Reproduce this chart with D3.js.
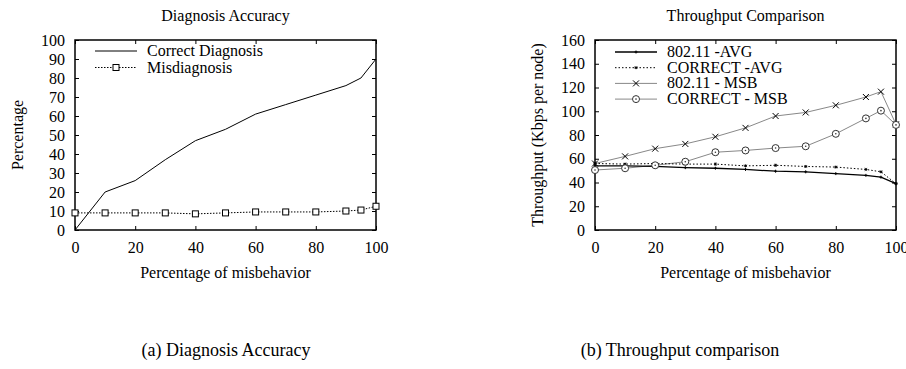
<!DOCTYPE html>
<html>
<head>
<meta charset="utf-8">
<script src="https://cdn.jsdelivr.net/npm/d3@7"></script>
<style>
  body { margin: 0; background: #fff; }
  svg { display: block; }
  svg text { font-family: "Liberation Serif", "Times New Roman", "DejaVu Serif", serif; }
</style>
</head>
<body>
<svg id="chart" width="906" height="369"></svg>
<script>
// misbehavior percentages shared by both panels
const misbehavior = [0, 10, 20, 30, 40, 50, 60, 70, 80, 90, 95, 100];

// (a) diagnosis accuracy, percentage
const correctDiagnosis = [0, 20, 26, 37, 47, 53, 61, 66, 71, 76, 80, 90];
const misdiagnosis = [9, 9, 9, 9, 8.5, 9, 9.5, 9.5, 9.5, 10, 10.5, 12.5];

// (b) throughput, Kbps per node
const avg80211 = [54, 54, 53.5, 52.5, 52, 51, 49.5, 49, 47.5, 46, 44.5, 39];
const avgCorrect = [56, 55.5, 56, 55.5, 55.5, 54, 54.5, 53.5, 53, 51, 49, 39];
const msb80211 = [56, 62, 68.5, 72.5, 78.5, 86, 96, 99, 105, 112, 116.5, 89];
const msbCorrect = [50.5, 52, 54.5, 57.5, 65.5, 67, 69, 70.5, 81, 94, 100.5, 88.5];

const xTicks = [0, 20, 40, 60, 80, 100];
const yTicksA = d3.range(0, 101, 10);
const yTicksB = d3.range(0, 161, 20);

const svg = d3.select('#chart');
svg.append('rect').attr('width', 906).attr('height', 369).attr('fill', '#fff');

const fontSize = 16;
const plotTop = 40;
const plotBottom = 230;

// Draws frame, mirrored inward ticks, labels; returns scales.
function panel(left, right, yMax, yTicks, title, yLabel, yLabelX) {
  const x = d3.scaleLinear().domain([0, 100]).range([left, right]);
  const y = d3.scaleLinear().domain([0, yMax]).range([plotBottom, plotTop]);
  const g = svg.append('g');

  const axes = [
    [d3.axisBottom(x), `translate(0,${plotBottom})`, xTicks],
    [d3.axisTop(x), `translate(0,${plotTop})`, xTicks],
    [d3.axisLeft(y), `translate(${left},0)`, yTicks],
    [d3.axisRight(y), `translate(${right},0)`, yTicks],
  ];
  axes.forEach(([ax, tr, ticks], i) => {
    const a = g.append('g')
      .attr('transform', tr)
      .call(ax.tickValues(ticks).tickSizeInner(-4).tickSizeOuter(0).tickPadding(i < 1 ? 12 : 10));
    a.select('.domain').remove();
    a.selectAll('line').attr('stroke', '#000').attr('stroke-width', 1);
    a.selectAll('text')
      .attr('font-size', fontSize)
      .attr('font-family', '"Liberation Serif", serif')
      .attr('fill', '#000');
    if (i === 1 || i === 3) a.selectAll('text').remove();
  });

  g.append('rect')
    .attr('x', left).attr('y', plotTop)
    .attr('width', right - left).attr('height', plotBottom - plotTop)
    .attr('fill', 'none').attr('stroke', '#000').attr('stroke-width', 1.5);

  svg.append('text')
    .attr('x', (left + right) / 2).attr('y', 21)
    .attr('text-anchor', 'middle').attr('font-size', fontSize)
    .text(title);

  svg.append('text')
    .attr('x', (left + right) / 2).attr('y', 278)
    .attr('text-anchor', 'middle').attr('font-size', fontSize)
    .text('Percentage of misbehavior');

  svg.append('text')
    .attr('transform', `translate(${yLabelX},${(plotTop + plotBottom) / 2}) rotate(-90)`)
    .attr('text-anchor', 'middle').attr('font-size', fontSize)
    .text(yLabel);

  return { x, y, g };
}

function series(p, values, color, width, dash) {
  const line = d3.line()
    .x((d, i) => p.x(misbehavior[i]))
    .y((d) => p.y(d));
  p.g.append('path')
    .datum(values)
    .attr('d', line)
    .attr('fill', 'none')
    .attr('stroke', color)
    .attr('stroke-width', width)
    .attr('stroke-dasharray', dash);
}

function marker(sel, kind) {
  if (kind === 'square') {
    sel.append('rect').attr('x', -3).attr('y', -3).attr('width', 6).attr('height', 6)
      .attr('fill', '#fff').attr('stroke', '#000').attr('stroke-width', 1);
  } else if (kind === 'cross') {
    sel.append('path').attr('d', 'M-3,-3L3,3M-3,3L3,-3')
      .attr('stroke', '#000').attr('stroke-width', 1);
  } else if (kind === 'circle') {
    sel.append('circle').attr('r', 3.5).attr('fill', '#fff')
      .attr('stroke', '#333').attr('stroke-width', 1);
    sel.append('circle').attr('r', 0.8).attr('fill', '#333');
  } else if (kind === 'plus') {
    sel.append('path').attr('d', 'M-1.5,0L1.5,0M0,-1.5L0,1.5')
      .attr('stroke', '#000').attr('stroke-width', 1);
  } else if (kind === 'star') {
    sel.append('path').attr('d', 'M-1.5,0L1.5,0M0,-1.5L0,1.5M-1.2,-1.2L1.2,1.2M-1.2,1.2L1.2,-1.2')
      .attr('stroke', '#000').attr('stroke-width', 0.9);
  }
}

function markers(p, values, kind) {
  p.g.selectAll(null)
    .data(values)
    .join('g')
    .attr('transform', (d, i) => `translate(${p.x(misbehavior[i])},${p.y(d)})`)
    .each(function () { marker(d3.select(this), kind); });
}

function legend(entries, x0, y0, dy) {
  entries.forEach((e, i) => {
    const y = y0 + i * dy;
    const g = svg.append('g');
    g.append('line')
      .attr('x1', x0).attr('x2', x0 + 42).attr('y1', y).attr('y2', y)
      .attr('stroke', e.color).attr('stroke-width', e.width)
      .attr('stroke-dasharray', e.dash);
    if (e.marker) {
      const m = g.append('g').attr('transform', `translate(${x0 + 21},${y})`);
      marker(m, e.marker);
    }
    svg.append('text')
      .attr('x', x0 + 52).attr('y', y + 5)
      .attr('font-size', fontSize)
      .text(e.label);
  });
}

// (a) Diagnosis Accuracy
const pa = panel(75, 376, 100, yTicksA, 'Diagnosis Accuracy', 'Percentage', 23);
series(pa, correctDiagnosis, '#000', 1, null);
series(pa, misdiagnosis, '#000', 1, '1.5,1.5');
markers(pa, misdiagnosis, 'square');
legend([
  { label: 'Correct Diagnosis', color: '#000', width: 1, dash: null },
  { label: 'Misdiagnosis', color: '#000', width: 1, dash: '1.5,1.5', marker: 'square' },
], 95, 51, 16.5);

// (b) Throughput Comparison
const pb = panel(595, 896, 160, yTicksB, 'Throughput Comparison', 'Throughput (Kbps per node)', 543);
series(pb, msb80211, '#888', 1, null);
series(pb, msbCorrect, '#888', 1, null);
series(pb, avg80211, '#000', 1.3, null);
series(pb, avgCorrect, '#000', 1, '1.5,2');
markers(pb, avg80211, 'plus');
markers(pb, avgCorrect, 'star');
markers(pb, msb80211, 'cross');
markers(pb, msbCorrect, 'circle');
legend([
  { label: '802.11 -AVG', color: '#000', width: 1.3, dash: null, marker: 'plus' },
  { label: 'CORRECT -AVG', color: '#000', width: 1, dash: '1.5,2', marker: 'star' },
  { label: '802.11 - MSB', color: '#888', width: 1, dash: null, marker: 'cross' },
  { label: 'CORRECT - MSB', color: '#888', width: 1, dash: null, marker: 'circle' },
], 615, 52, 15.7);

// captions, centred in each half of the page
svg.append('text')
  .attr('x', 226).attr('y', 356)
  .attr('text-anchor', 'middle').attr('font-size', 18)
  .text('(a) Diagnosis Accuracy');
svg.append('text')
  .attr('x', 680).attr('y', 356)
  .attr('text-anchor', 'middle').attr('font-size', 18)
  .text('(b) Throughput comparison');
</script>
</body>
</html>
